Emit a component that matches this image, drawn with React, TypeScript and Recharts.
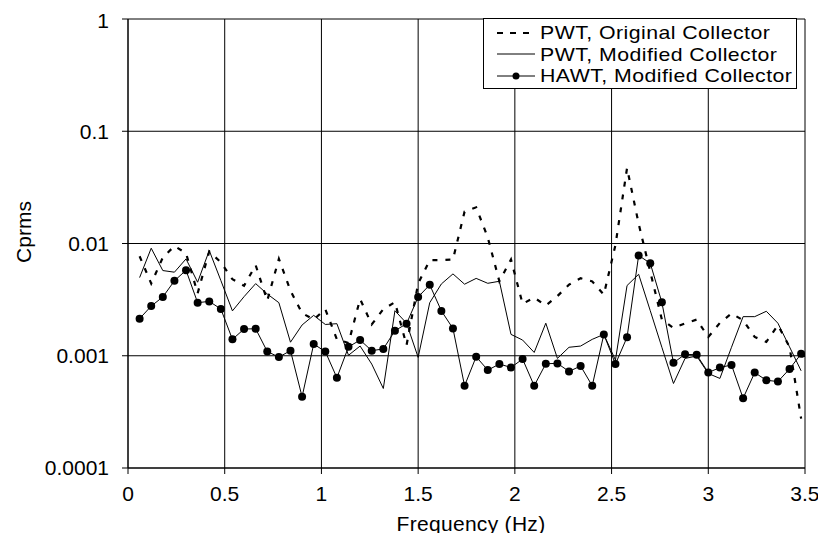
import React from 'react';
import { LineChart, Line, XAxis, YAxis, CartesianGrid, Legend } from 'recharts';

const frequencies = [
  0.06, 0.12, 0.18, 0.24, 0.3, 0.36, 0.42, 0.48, 0.54, 0.6,
  0.66, 0.72, 0.78, 0.84, 0.9, 0.96, 1.02, 1.08, 1.14, 1.2,
  1.26, 1.32, 1.38, 1.44, 1.5, 1.56, 1.62, 1.68, 1.74, 1.8,
  1.86, 1.92, 1.98, 2.04, 2.1, 2.16, 2.22, 2.28, 2.34, 2.4,
  2.46, 2.52, 2.58, 2.64, 2.7, 2.76, 2.82, 2.88, 2.94, 3.0,
  3.06, 3.12, 3.18, 3.24, 3.3, 3.36, 3.42, 3.48, 3.54,
];

const pwtOriginal = [
  0.0077, 0.0044, 0.0075, 0.0095, 0.0082, 0.0036, 0.0085, 0.0068, 0.0048, 0.0042,
  0.0064, 0.0031, 0.0073, 0.0038, 0.0024, 0.0021, 0.0026, 0.0014, 0.0013, 0.0032,
  0.0019, 0.0026, 0.003, 0.00124, 0.0044, 0.0071, 0.0071, 0.0072, 0.0192, 0.021,
  0.0113, 0.0046, 0.0072, 0.0029, 0.0033, 0.0028, 0.0034, 0.0043, 0.0049, 0.0046,
  0.0035, 0.0097, 0.047, 0.015, 0.0056, 0.0021, 0.00177, 0.00194, 0.0021, 0.00147,
  0.00196, 0.00238, 0.00207, 0.00147, 0.00133, 0.00187, 0.0012, 0.000275, null,
];

const pwtModified = [
  0.00497, 0.00908, 0.00574, 0.00555, 0.00729, 0.00452, 0.00866, 0.00468, 0.00251, 0.00336,
  0.00439, 0.00355, 0.00297, 0.00132, 0.00188, 0.00229, 0.0019, 0.00193, 0.00101, 0.00122,
  0.000843, 0.000511, 0.00252, 0.00195, 0.000967, 0.00297, 0.00436, 0.00536, 0.00434, 0.00489,
  0.00442, 0.00461, 0.00155, 0.00138, 0.00107, 0.00195, 0.000947, 0.00119, 0.00122, 0.0014,
  0.00155, 0.000915, 0.00422, 0.00532, 0.00252, 0.00119, 0.000566, 0.000947, 0.000994, 0.000695,
  0.000628, 0.00119, 0.00223, 0.00223, 0.00249, 0.00195, 0.0012, 0.000734, null,
];

const hawtModified = [
  0.00214, 0.00277, 0.00334, 0.00465, 0.00578, 0.00297, 0.00305, 0.00261, 0.0014, 0.00173,
  0.00174, 0.00109, 0.000973, 0.00111, 0.000431, 0.00127, 0.00109, 0.000637, 0.0012, 0.00138,
  0.00111, 0.00115, 0.00167, 0.00193, 0.00334, 0.00428, 0.00251, 0.00175, 0.00054, 0.00098,
  0.000745, 0.000843, 0.000787, 0.000934, 0.00054, 0.000849, 0.000855, 0.000725, 0.00081, 0.00054,
  0.00155, 0.000843, 0.00146, 0.00782, 0.00667, 0.00299, 0.000865, 0.00103, 0.00102, 0.000708,
  0.000785, 0.000828, 0.000418, 0.000708, 0.000605, 0.000589, 0.000762, 0.00104, 0.00086,
];

const xTicks = [0, 0.5, 1, 1.5, 2, 2.5, 3, 3.5];
const yTicks = [0.0001, 0.001, 0.01, 0.1, 1];
const seriesNames = ['PWT, Original Collector', 'PWT, Modified Collector', 'HAWT, Modified Collector'];

const data = frequencies.map((f, i) => ({
  f,
  orig: pwtOriginal[i],
  mod: pwtModified[i],
  hawt: hawtModified[i],
}));

const FONT = '"Liberation Sans", Arial, sans-serif';
const FS = 21;
const LEGEND_FS = 19;
const ROW_H = 21.5;

const legendItems = [
  { name: seriesNames[0], dash: '6 7', width: 2.2, dot: false },
  { name: seriesNames[1], dash: undefined, width: 1, dot: false },
  { name: seriesNames[2], dash: undefined, width: 1, dot: true },
];

const LegendBox = () => (
  <div
    style={{
      width: 314,
      height: 71,
      boxSizing: 'border-box',
      border: '1px solid #000',
      background: '#fff',
      paddingTop: 3,
      fontFamily: FONT,
      fontSize: LEGEND_FS,
      color: '#000',
    }}
  >
    {legendItems.map((item) => (
      <div key={item.name} style={{ display: 'flex', alignItems: 'center', height: ROW_H, whiteSpace: 'nowrap' }}>
        <svg width={38} height={20} style={{ marginLeft: 13, marginRight: 5, flex: 'none' }}>
          <line x1={0} x2={38} y1={10} y2={10} stroke="#000" strokeWidth={item.width} strokeDasharray={item.dash} />
          {item.dot && <circle cx={19} cy={10} r={3.5} fill="#000" />}
        </svg>
        <span
          style={{
            display: 'inline-block',
            lineHeight: `${ROW_H}px`,
            letterSpacing: '0.4px',
            transform: 'scaleX(1.12)',
            transformOrigin: 'left center',
          }}
        >
          {item.name}
        </span>
      </div>
    ))}
  </div>
);

const XTitle = () => (
  <text x={463} y={515} textAnchor="middle" dominantBaseline="central" fontFamily={FONT} fontSize={FS} letterSpacing={0.3} fill="#000">
    Frequency (Hz)
  </text>
);

const YTitle = () => (
  <text
    x={15}
    y={224}
    textAnchor="middle"
    dominantBaseline="central"
    fontFamily={FONT}
    fontSize={FS}
    fill="#000"
    transform="rotate(-90 15 224)"
  >
    Cprms
  </text>
);

export default function App() {
  return (
    <LineChart width={810} height={525} data={data} margin={{ top: 11, right: 13, bottom: 5, left: 0 }}>
      <CartesianGrid stroke="#000" strokeWidth={1} />
      <XAxis
        dataKey="f"
        type="number"
        domain={[0, 3.5]}
        ticks={xTicks}
        allowDataOverflow
        height={60}
        tickSize={6}
        tickMargin={12}
        tick={{ fill: '#000', fontSize: FS, fontFamily: FONT }}
        tickLine={{ stroke: '#000' }}
        axisLine={{ stroke: '#000' }}
        label={{ content: () => <XTitle /> }}
      />
      <YAxis
        type="number"
        scale="log"
        domain={[0.0001, 1]}
        ticks={yTicks}
        allowDataOverflow
        width={120}
        tickSize={6}
        tickMargin={13}
        tickFormatter={(v: number) => String(v)}
        tick={{ fill: '#000', fontSize: FS, fontFamily: FONT }}
        tickLine={{ stroke: '#000' }}
        axisLine={{ stroke: '#000' }}
        label={{ content: () => <YTitle /> }}
      />
      <Legend
        layout="vertical"
        align="center"
        verticalAlign="middle"
        content={() => <LegendBox />}
        wrapperStyle={{ position: 'absolute', top: 10, left: 475, width: 314, height: 71 }}
      />
      <Line
        dataKey="orig"
        name={seriesNames[0]}
        stroke="#000"
        strokeWidth={2.2}
        strokeDasharray="5 8"
        dot={false}
        isAnimationActive={false}
        connectNulls={false}
      />
      <Line
        dataKey="mod"
        name={seriesNames[1]}
        stroke="#000"
        strokeWidth={1}
        dot={false}
        isAnimationActive={false}
      />
      <Line
        dataKey="hawt"
        name={seriesNames[2]}
        stroke="#000"
        strokeWidth={1}
        dot={{ r: 4, fill: '#000', stroke: '#000', strokeWidth: 0 }}
        isAnimationActive={false}
      />
    </LineChart>
  );
}
